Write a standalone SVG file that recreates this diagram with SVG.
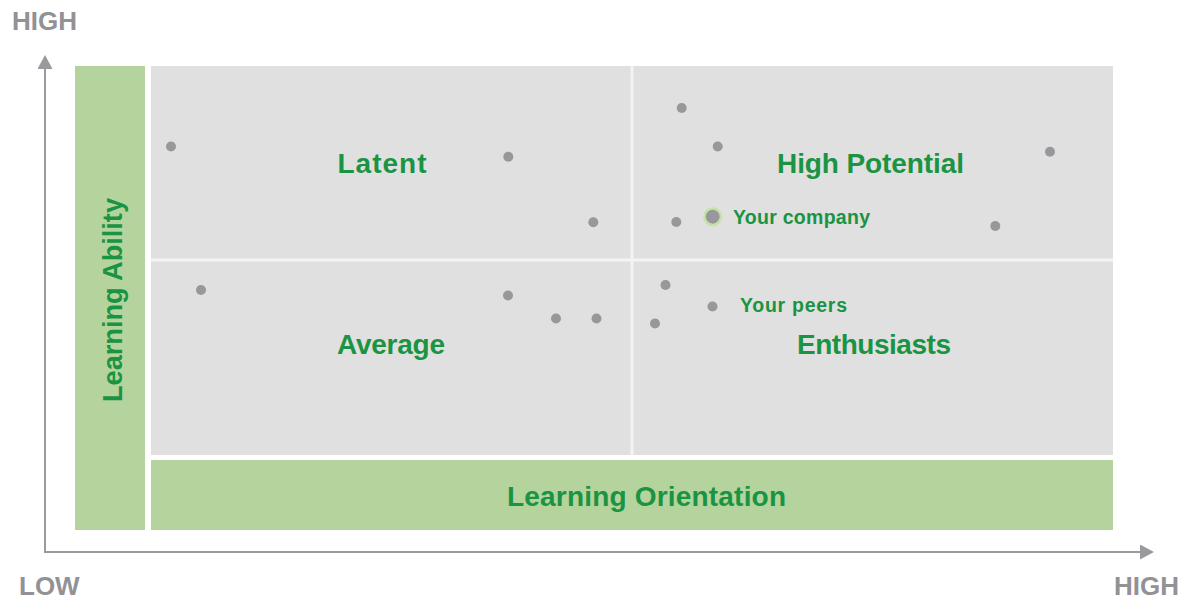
<svg xmlns="http://www.w3.org/2000/svg" width="1190" height="600" viewBox="0 0 1190 600">
<style>
.axis{stroke:#9a9a9e;stroke-width:2;fill:none}
.axlbl{font-family:"Liberation Sans",Arial,sans-serif;font-weight:bold;font-size:26px;fill:#929296}
.green{fill:#b5d39d}
.quad{fill:#e0e0e0}
.div{stroke:#f3f3f6;stroke-width:3}
.lbl{font-family:"Liberation Sans",Arial,sans-serif;font-weight:bold;font-size:28px;fill:#1a9443;text-anchor:middle}
.small{font-family:"Liberation Sans",Arial,sans-serif;font-weight:bold;font-size:19.5px;fill:#1a9443}
.dot{fill:#98989c}
</style>
<defs>
<marker id="arr" viewBox="0 0 14 15" refX="0" refY="7.5" markerWidth="14" markerHeight="15" markerUnits="userSpaceOnUse" orient="auto">
<path d="M0,0 L14,7.5 L0,15 Z" fill="#9a9a9e"/>
</marker>
</defs>
<g id="connectors">
<path class="axis" d="M45,552 L45,69" marker-end="url(#arr)"/>
<path class="axis" d="M44,552 L1140,552" marker-end="url(#arr)"/>
</g>
<g id="axis-labels">
<text class="axlbl" x="12" y="30">HIGH</text>
<text class="axlbl" x="19" y="595">LOW</text>
<text class="axlbl" x="1114" y="595">HIGH</text>
</g>
<g id="learning-ability">
<rect class="green" x="75" y="66" width="70" height="464"/>
<text class="lbl" transform="translate(122,300) rotate(-90)" x="0" y="0" textLength="204" lengthAdjust="spacingAndGlyphs">Learning Ability</text>
</g>
<g id="learning-orientation">
<rect class="green" x="151" y="460" width="962" height="70"/>
<text class="lbl" x="646.5" y="506" textLength="279">Learning Orientation</text>
</g>
<g id="quadrants">
<rect class="quad" x="151" y="66" width="962" height="389"/>
<line class="div" x1="632" y1="66" x2="632" y2="455"/>
<line class="div" x1="151" y1="260" x2="1113" y2="260"/>
</g>
<g id="latent"><text class="lbl" x="382" y="173" textLength="89">Latent</text></g>
<g id="high-potential"><text class="lbl" x="870.5" y="172.5" textLength="187">High Potential</text></g>
<g id="average"><text class="lbl" x="391" y="354" textLength="108">Average</text></g>
<g id="enthusiasts"><text class="lbl" x="874" y="354" textLength="154">Enthusiasts</text></g>
<g id="dots">
<circle class="dot" cx="171" cy="146.5" r="5"/>
<circle class="dot" cx="508.3" cy="156.7" r="5"/>
<circle class="dot" cx="593.3" cy="222.3" r="5"/>
<circle class="dot" cx="681.7" cy="108" r="5"/>
<circle class="dot" cx="717.7" cy="146.5" r="5"/>
<circle class="dot" cx="676.3" cy="222" r="5"/>
<circle class="dot" cx="1050" cy="151.7" r="5"/>
<circle class="dot" cx="995.3" cy="226" r="5"/>
<circle class="dot" cx="201" cy="290" r="5"/>
<circle class="dot" cx="508" cy="295.5" r="5"/>
<circle class="dot" cx="556" cy="318.5" r="5"/>
<circle class="dot" cx="596.5" cy="318.5" r="5"/>
<circle class="dot" cx="665.5" cy="285" r="5"/>
<circle class="dot" cx="712.5" cy="306.5" r="5"/>
<circle class="dot" cx="655" cy="323.5" r="5"/>
</g>
<g id="your-company">
<circle cx="712.7" cy="216.7" r="8.2" fill="#98989c" stroke="#c3e2a8" stroke-width="2.5"/>
<text class="small" x="733" y="224" textLength="137">Your company</text>
</g>
<g id="your-peers">
<text class="small" x="740" y="311.5" textLength="107">Your peers</text>
</g>
</svg>
